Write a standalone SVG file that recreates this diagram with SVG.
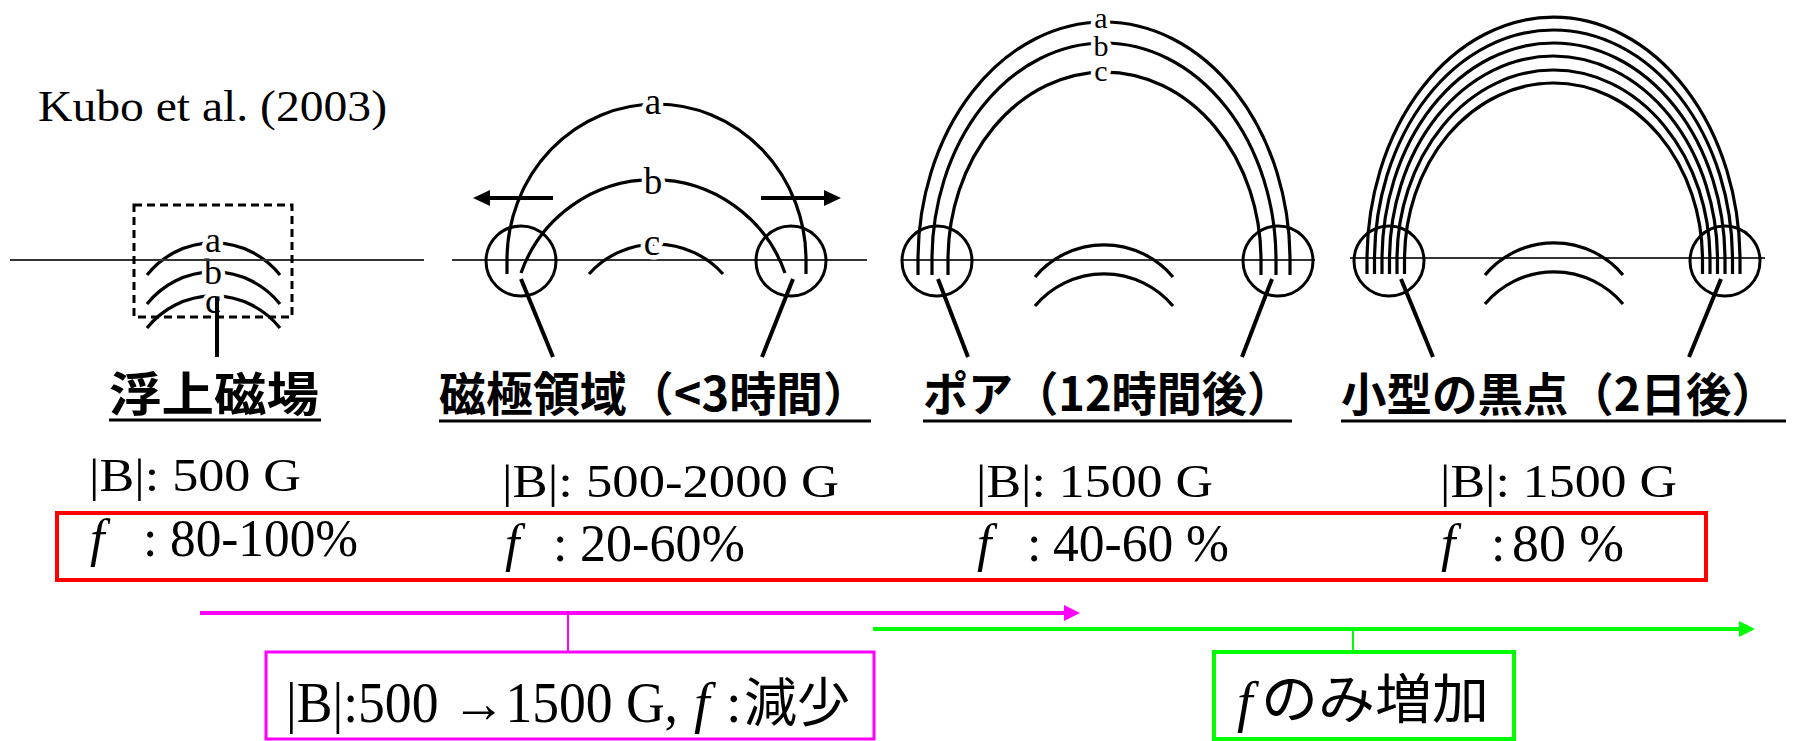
<svg xmlns="http://www.w3.org/2000/svg" width="1793" height="741" viewBox="0 0 1793 741">
  <style>
    .ln{fill:none;stroke:#000;stroke-width:3.2}
    .hz{stroke:#333;stroke-width:1.8}
    .ring{fill:none;stroke:#000;stroke-width:3}
    .ld{stroke:#000;stroke-width:4}
    .lbl{font-family:"Liberation Serif","Times New Roman",serif;text-anchor:middle;fill:#000;stroke:#fff;stroke-width:9px;stroke-linejoin:round;paint-order:stroke}
    .ser{font-family:"Liberation Serif","Times New Roman",serif;fill:#000}
    .it{font-style:italic}
    .jp{font-family:"Noto Sans CJK JP","Noto Sans",sans-serif;fill:#000}
    .ttl{font-weight:bold}
    .ul{stroke:#000;stroke-width:3}
  </style>

  <rect width="1793" height="741" fill="#fff"/>

  <g id="citation">
    <text class="ser" x="38" y="121" font-size="45" textLength="349" lengthAdjust="spacingAndGlyphs">Kubo et al. (2003)</text>
  </g>

  <!-- stage 1: emerging flux -->
  <g id="stage-emerging">
    <path class="ln" d="M147 275A85 85 0 0 1 280 275"/>
    <path class="ln" d="M147 304A85 85 0 0 1 280 304"/>
    <path class="ln" d="M147 328A85 85 0 0 1 280 328"/>
    <text class="lbl" font-size="36"><tspan x="213" y="252">a</tspan><tspan x="213" y="284">b</tspan><tspan x="213" y="313">c</tspan></text>
    <line class="hz" x1="10" y1="260" x2="424" y2="260"/>
    <rect x="134" y="205" width="158" height="112" fill="none" stroke="#000" stroke-width="3" stroke-dasharray="8 5"/>
    <line class="ld" x1="217" y1="297" x2="217" y2="357"/>
  </g>

  <!-- stage 2: magnetic poles -->
  <g id="stage-poles">
    <line class="hz" x1="452" y1="260" x2="867" y2="260"/>
    <path class="ln" d="M507 274L507 260A149.5 156 0 0 1 806 260L806 274"/>
    <path class="ln" d="M521 273A140 140 0 0 1 785 273"/>
    <path class="ln" d="M589 274A90 90 0 0 1 723 274"/>
    <text class="lbl" font-size="37"><tspan x="653" y="114">a</tspan><tspan x="653" y="194">b</tspan><tspan x="652" y="255">c</tspan></text>
    <circle class="ring" cx="521" cy="261" r="35"/>
    <circle class="ring" cx="791" cy="261" r="35"/>
    <line class="ld" x1="553" y1="198" x2="486" y2="198"/>
    <polygon points="473,198 490,190 490,206" fill="#000"/>
    <line class="ld" x1="761" y1="198" x2="828" y2="198"/>
    <polygon points="841,198 824,190 824,206" fill="#000"/>
    <line class="ld" x1="521" y1="279" x2="553" y2="357"/>
    <line class="ld" x1="793" y1="279" x2="762" y2="357"/>
  </g>

  <!-- stage 3: pore -->
  <g id="stage-pore">
    <line class="hz" x1="903" y1="260" x2="1315" y2="260"/>
    <path class="ln" d="M918 275L918 260A186 238 0 0 1 1290 260L1290 275"/>
    <path class="ln" d="M932 275L932 260A172 217 0 0 1 1276 260L1276 275"/>
    <path class="ln" d="M948 275L948 260A156.5 188 0 0 1 1261 260L1261 275"/>
    <text class="lbl" font-size="30" stroke-width="8"><tspan x="1101" y="28">a</tspan><tspan x="1101" y="56">b</tspan><tspan x="1101" y="81">c</tspan></text>
    <path class="ln" d="M1035 277A90 90 0 0 1 1173 277"/>
    <path class="ln" d="M1035 306A90 90 0 0 1 1173 306"/>
    <circle class="ring" cx="937" cy="261" r="35"/>
    <circle class="ring" cx="1278" cy="261" r="35"/>
    <line class="ld" x1="938" y1="279" x2="968" y2="357"/>
    <line class="ld" x1="1272" y1="279" x2="1242" y2="357"/>
  </g>

  <!-- stage 4: small sunspot -->
  <g id="stage-sunspot">
    <line class="hz" x1="1350" y1="258" x2="1765" y2="258"/>
    <path class="ln" d="M1367 274L1367 260A186.5 243 0 0 1 1740 260L1740 274"/>
    <path class="ln" d="M1374.5 274L1374.5 260A179 230 0 0 1 1732.5 260L1732.5 274"/>
    <path class="ln" d="M1382 274L1382 260A171.5 217 0 0 1 1725 260L1725 274"/>
    <path class="ln" d="M1389.5 274L1389.5 260A164 204 0 0 1 1717.5 260L1717.5 274"/>
    <path class="ln" d="M1397 274L1397 260A156.5 190 0 0 1 1710 260L1710 274"/>
    <path class="ln" d="M1404.5 274L1404.5 260A149 177 0 0 1 1702.5 260L1702.5 274"/>
    <path class="ln" d="M1485 275A90 90 0 0 1 1623 275"/>
    <path class="ln" d="M1485 304A90 90 0 0 1 1623 304"/>
    <circle class="ring" cx="1389" cy="261" r="35"/>
    <circle class="ring" cx="1725" cy="261" r="35"/>
    <line class="ld" x1="1401" y1="279" x2="1433" y2="357"/>
    <line class="ld" x1="1721" y1="279" x2="1689" y2="357"/>
  </g>

  <!-- stage titles -->
  <g id="title-emerging">
    <text class="jp ttl" x="109" y="411" font-size="47" textLength="210" lengthAdjust="spacingAndGlyphs">浮上磁場</text>
    <line class="ul" x1="109" y1="420" x2="321" y2="420"/>
  </g>
  <g id="title-poles">
    <text class="jp ttl" x="439" y="411" font-size="47" textLength="431" lengthAdjust="spacingAndGlyphs">磁極領域（&lt;3時間）</text>
    <line class="ul" x1="439" y1="421" x2="871" y2="421"/>
  </g>
  <g id="title-pore">
    <text class="jp ttl" x="923" y="411" font-size="47" textLength="369" lengthAdjust="spacingAndGlyphs">ポア（12時間後）</text>
    <line class="ul" x1="923" y1="421" x2="1292" y2="421"/>
  </g>
  <g id="title-sunspot">
    <text class="jp ttl" x="1341" y="411" font-size="46" textLength="436" lengthAdjust="spacingAndGlyphs">小型の黒点（2日後）</text>
    <line class="ul" x1="1341" y1="421" x2="1786" y2="421"/>
  </g>

  <!-- field strength values -->
  <g id="field-values">
    <text class="ser" x="89" y="491" font-size="47" textLength="212" lengthAdjust="spacingAndGlyphs">|B|: 500 G</text>
    <text class="ser" x="502" y="497" font-size="47" textLength="337" lengthAdjust="spacingAndGlyphs">|B|: 500-2000 G</text>
    <text class="ser" x="976" y="497" font-size="47" textLength="237" lengthAdjust="spacingAndGlyphs">|B|: 1500 G</text>
    <text class="ser" x="1440" y="497" font-size="47" textLength="237" lengthAdjust="spacingAndGlyphs">|B|: 1500 G</text>
  </g>

  <!-- filling factor values -->
  <g id="filling-factor">
    <rect x="57" y="513" width="1649" height="67" fill="none" stroke="#f00" stroke-width="4"/>
    <text class="ser" font-size="52"><tspan class="it" x="90" y="556">f</tspan><tspan x="143" y="556">:</tspan><tspan x="170" y="556" textLength="188" lengthAdjust="spacingAndGlyphs">80-100%</tspan></text>
    <text class="ser" font-size="52"><tspan class="it" x="505" y="561">f</tspan><tspan x="553" y="561">:</tspan><tspan x="580" y="561" textLength="165" lengthAdjust="spacingAndGlyphs">20-60%</tspan></text>
    <text class="ser" font-size="52"><tspan class="it" x="977" y="561">f</tspan><tspan x="1027" y="561">:</tspan><tspan x="1053" y="561" textLength="176" lengthAdjust="spacingAndGlyphs">40-60 %</tspan></text>
    <text class="ser" font-size="52"><tspan class="it" x="1441" y="561">f</tspan><tspan x="1491" y="561">:</tspan><tspan x="1512" y="561" textLength="112" lengthAdjust="spacingAndGlyphs">80 %</tspan></text>
  </g>

  <g id="connectors">
    <line x1="200" y1="613" x2="1066" y2="613" stroke="#f0f" stroke-width="4"/>
    <polygon points="1080,613 1064,605 1064,621" fill="#f0f"/>
    <line x1="568" y1="613" x2="568" y2="651" stroke="#f0f" stroke-width="2"/>
    <line x1="873" y1="629" x2="1741" y2="629" stroke="#0f0" stroke-width="4"/>
    <polygon points="1755,629 1739,621 1739,637" fill="#0f0"/>
    <line x1="1353" y1="629" x2="1353" y2="651" stroke="#0f0" stroke-width="2"/>
  </g>

  <g id="phase-decrease">
    <rect x="266" y="652" width="608" height="87" fill="none" stroke="#f0f" stroke-width="3"/>
    <text class="ser" font-size="56"><tspan x="286" y="722" textLength="392" lengthAdjust="spacingAndGlyphs">|B|:500 →1500 G,</tspan><tspan class="it" x="694" y="722">f</tspan><tspan x="726" y="722">:</tspan><tspan class="jp" x="744" y="722" font-size="53">減少</tspan></text>
  </g>

  <g id="phase-increase">
    <rect x="1214" y="652" width="300" height="87" fill="none" stroke="#0f0" stroke-width="4"/>
    <text font-size="56"><tspan class="ser it" x="1237" y="721">f</tspan><tspan class="jp" x="1261" y="719" font-size="54" textLength="228" lengthAdjust="spacingAndGlyphs">のみ増加</tspan></text>
  </g>
</svg>
